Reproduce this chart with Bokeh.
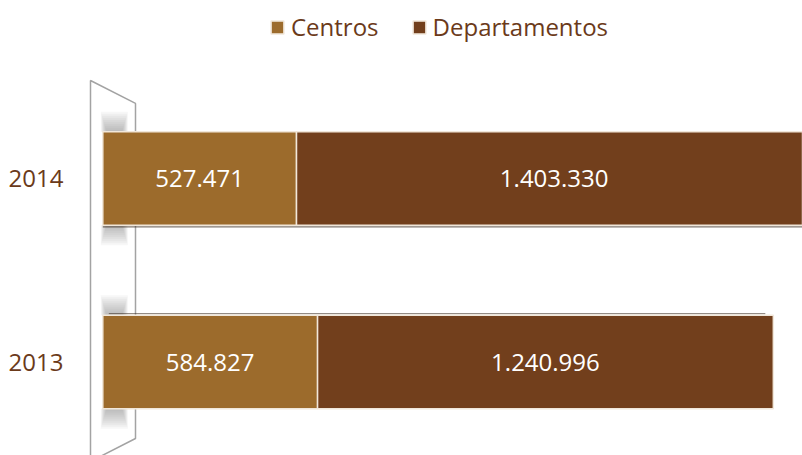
from bokeh.plotting import figure
from bokeh.models import Range1d, Legend, LegendItem, ColumnDataSource
from bokeh.core.properties import value
from bokeh.embed import file_html
from bokeh.resources import INLINE

# ---- data ----
years = ["2013", "2014"]
centros = [584827, 527471]
departamentos = [1240996, 1403330]
series_names = ["Centros", "Departamentos"]

# ---- styling constants ----
colors = ["#9c6b2c", "#723f1c"]
text_brown = "#6b3a1a"
UPP = 2723.0      # data units per screen pixel (horizontal)
YPX = 183.5       # screen pixels per category step
BAR_H = 0.51

ys = list(range(len(years)))
tot = [c + d for c, d in zip(centros, departamentos)]

def fmt(v):
    return f"{v:,}".replace(",", ".")

p = figure(width=802, height=455, output_backend="svg", toolbar_location=None,
           x_range=Range1d(-102.3 * UPP, 699.7 * UPP),
           y_range=Range1d(-0.5095, 1.970),
           min_border=0, outline_line_color=None,
           x_axis_location=None, y_axis_location=None)
p.grid.visible = False
p.background_fill_color = "white"
p.border_fill_color = "white"

# ---- 3D side wall (decoration) ----
wx0, wx1 = -12.3 * UPP, 32.7 * UPP
p.patch(x=[wx0, wx1, wx1, wx0],
        y=[1.534, 1.409, -0.417, -0.542],
        fill_color="white", line_color="#a3a3a3", line_width=1.5)

# ---- soft shadows of the bars on the wall ----
n = 10
for k in range(n):
    ext = (20.0 * (k + 1) / n) / YPX
    inset = (n - 1 - k) * 0.6
    for y in ys:
        p.quad(left=(-2.0 + inset) * UPP, right=(25.0 - inset) * UPP,
               top=[y + BAR_H / 2 + ext], bottom=[y + BAR_H / 2],
               fill_color="#707070", fill_alpha=0.055, line_color=None)
        p.quad(left=(-2.0 + inset) * UPP, right=(25.0 - inset) * UPP,
               top=[y - BAR_H / 2], bottom=[y - BAR_H / 2 - ext],
               fill_color="#707070", fill_alpha=0.055, line_color=None)

# ---- 3D depth edges of the bars ----
edge_off = 1.6 / YPX
# lower bar: visible top face; upper bar: visible bottom face
p.segment(x0=[6 * UPP], x1=[tot[0] - 8 * UPP],
          y0=[ys[0] + BAR_H / 2 + edge_off], y1=[ys[0] + BAR_H / 2 + edge_off],
          line_color="#3b2b20", line_alpha=0.55, line_width=1.3)
p.segment(x0=[0], x1=[tot[1]],
          y0=[ys[1] - BAR_H / 2 - edge_off], y1=[ys[1] - BAR_H / 2 - edge_off],
          line_color="#3b2b20", line_alpha=0.65, line_width=1.3)

# ---- bars ----
src = ColumnDataSource(dict(y=ys, c=centros, d=departamentos, t=tot,
                            zero=[0] * len(ys)))
r1 = p.hbar(y="y", left="zero", right="c", height=BAR_H, source=src,
            fill_color=colors[0], line_color="#f1e7da", line_width=1.5)
r2 = p.hbar(y="y", left="c", right="t", height=BAR_H, source=src,
            fill_color=colors[1], line_color="#f1e7da", line_width=1.5)

# ---- value labels ----
p.text(x=[c / 2 for c in centros], y=ys, text=[fmt(v) for v in centros],
       text_align="center", text_baseline="middle", text_color="white",
       text_font=value("Open Sans"), text_font_size="24px")
p.text(x=[c + d / 2 for c, d in zip(centros, departamentos)], y=ys,
       text=[fmt(v) for v in departamentos],
       text_align="center", text_baseline="middle", text_color="white",
       text_font=value("Open Sans"), text_font_size="24px")

# ---- category labels ----
p.text(x=[-39.3 * UPP] * len(ys), y=ys, text=years,
       text_align="right", text_baseline="middle", text_color=text_brown,
       text_font=value("Open Sans"), text_font_size="24px")

# ---- legend ----
legend = Legend(items=[LegendItem(label=series_names[0], renderers=[r1]),
                       LegendItem(label=series_names[1], renderers=[r2])],
                orientation="horizontal", location=(269, 412),
                label_text_font="Open Sans", label_text_font_size="24px",
                label_text_color=text_brown, glyph_width=16, glyph_height=16,
                label_standoff=6, spacing=32, padding=0, margin=0,
                border_line_color=None, background_fill_alpha=0)
p.add_layout(legend)

open("out.html", "w").write(file_html(p, INLINE))
